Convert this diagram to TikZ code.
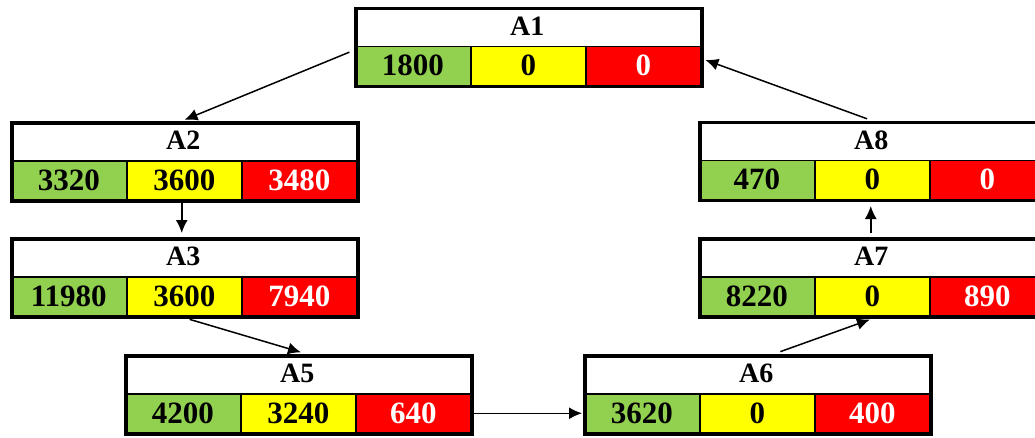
\documentclass[tikz,border=0pt]{standalone}
\usepackage{fontspec}
\setmainfont{Liberation Serif}
\usetikzlibrary{arrows.meta,calc}
\definecolor{cg}{HTML}{92D050}
\definecolor{cy}{HTML}{FFFF00}
\definecolor{cr}{HTML}{FF0000}
\tikzset{
  cellst/.style={draw=black,line width=1.5pt,minimum width=115pt,minimum height=39pt,
    inner sep=0pt,font=\fontsize{31}{33}\selectfont\bfseries,anchor=north west},
  titlest/.style={minimum width=346pt,minimum height=39pt,inner sep=0pt,
    font=\fontsize{28}{30}\selectfont\bfseries,anchor=north west},
  boxst/.style={draw=black,line width=3.5pt,minimum width=346pt,minimum height=78pt,
    inner sep=0pt,anchor=north west},
  arr/.style={-{Latex[length=13pt,width=12pt]},line width=1.5pt}
}
\newcommand{\tblock}[7]{%
  \node[titlest] (#1t) at (#2,#3) {#4};
  \node[cellst,fill=cg,minimum width=116pt] (#1g) at (#2,#3+39) {#5};
  \node[cellst,fill=cy] (#1y) at (#2+116,#3+39) {#6};
  \node[cellst,fill=cr,text=white] (#1r) at (#2+231,#3+39) {#7};
  \node[boxst] (#1) at (#2,#3) {};
}
\begin{document}
\begin{tikzpicture}[x=1pt,y=-1pt]
\useasboundingbox (0,0) rectangle (1035,437);
\clip (0,0) rectangle (1035,437);
\tblock{A1}{354}{6.5}{A1}{1800}{0}{0}
\tblock{A2}{10}{121}{A2}{3320}{3600}{3480}
\tblock{A3}{10}{237}{A3}{11980}{3600}{7940}
\tblock{A5}{124}{354}{A5}{4200}{3240}{640}
\tblock{A6}{583}{354}{A6}{3620}{0}{400}
\tblock{A7}{698}{237}{A7}{8220}{0}{890}
\tblock{A8}{698}{120.5}{A8}{470}{0}{0}
\draw[arr,shorten <=5pt,shorten >=3pt] ([yshift=-3pt]A1.west) -- ([xshift=-3pt]A2.north);
\draw[arr,shorten >=4pt] ([xshift=-3pt]A2.south) -- ([xshift=-3pt]A3.north);
\draw[arr,shorten <=3pt,shorten >=6pt] ([xshift=2pt]A3.south) -- ([xshift=8pt]A5.north);
\draw[arr,shorten <=1pt,shorten >=1pt] (A5r.east) -- (A6g.west);
\draw[arr,shorten <=7pt,shorten >=3pt] ([xshift=16pt]A6.north) -- (A7.south);
\draw[arr,shorten <=4pt,shorten >=4pt] ([xshift=-2pt]A7.north) -- ([xshift=-2pt]A8.south);
\draw[arr,shorten <=5pt,shorten >=2pt] ([xshift=-1pt]A8.north) -- ([yshift=-12pt]A1.east);
\end{tikzpicture}
\end{document}
